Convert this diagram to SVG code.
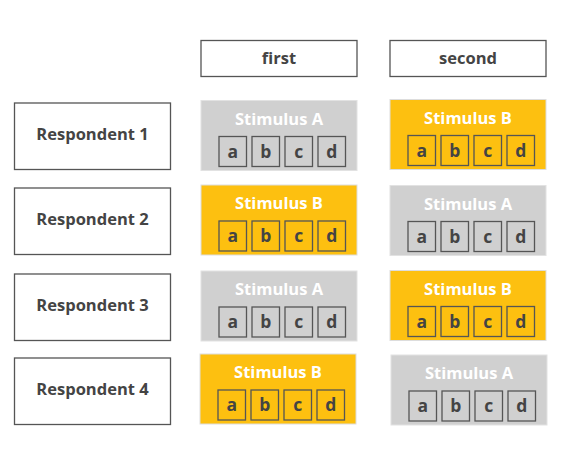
<svg xmlns="http://www.w3.org/2000/svg" width="565" height="449" viewBox="0 0 565 449">
<style>
.lbl{fill:#fff;stroke:#555;stroke-width:1.3}
.t{font-family:"Open Sans","Liberation Sans",sans-serif;font-weight:bold;font-size:16.5px;fill:#444;text-anchor:middle}
.st{font-family:"Open Sans","Liberation Sans",sans-serif;font-weight:bold;font-size:16.5px;fill:#fff;text-anchor:middle}
.lt{font-family:"Open Sans","Liberation Sans",sans-serif;font-weight:bold;font-size:17.5px;fill:#444;text-anchor:middle}
.ya{fill:#FDC010;stroke:#ddd;stroke-width:1}
.ga{fill:#D0D0D0;stroke:#e2e2e2;stroke-width:1}
.ib{fill:none;stroke:#555;stroke-width:1.3}
</style>
<defs>
<g id="letters">
<rect class="ib" x="18" y="36" width="27.5" height="30"/>
<rect class="ib" x="51" y="36" width="27.5" height="30"/>
<rect class="ib" x="84" y="36" width="27.5" height="30"/>
<rect class="ib" x="117" y="36" width="27.5" height="30"/>
<text class="lt" x="31.75" y="57">a</text>
<text class="lt" x="64.75" y="57">b</text>
<text class="lt" x="97.75" y="57">c</text>
<text class="lt" x="130.75" y="57">d</text>
</g>
<g id="stimA">
<rect class="ga" x="0" y="0" width="156" height="70"/>
<text class="st" x="78" y="24">Stimulus A</text>
<use href="#letters"/>
</g>
<g id="stimB">
<rect class="ya" x="0" y="0" width="156" height="70"/>
<text class="st" x="78" y="24">Stimulus B</text>
<use href="#letters"/>
</g>
</defs>
<g id="header-first"><rect class="lbl" x="201" y="40.5" width="156" height="36"/><text class="t" x="279" y="64">first</text></g>
<g id="header-second"><rect class="lbl" x="390" y="40.5" width="156" height="36"/><text class="t" x="468" y="64">second</text></g>
<g id="resp1"><rect class="lbl" x="14.5" y="103" width="156" height="66.5"/><text class="t" x="92.5" y="139.5">Respondent 1</text></g>
<g id="resp2"><rect class="lbl" x="14.5" y="188" width="156" height="66.5"/><text class="t" x="92.5" y="224.5">Respondent 2</text></g>
<g id="resp3"><rect class="lbl" x="14.5" y="274" width="156" height="66.5"/><text class="t" x="92.5" y="310.5">Respondent 3</text></g>
<g id="resp4"><rect class="lbl" x="14.5" y="358" width="156" height="66.5"/><text class="t" x="92.5" y="394.5">Respondent 4</text></g>
<g id="r1-first" transform="translate(201,100.5)"><use href="#stimA"/></g>
<g id="r1-second" transform="translate(390,99.5)"><use href="#stimB"/></g>
<g id="r2-first" transform="translate(201,185)"><use href="#stimB"/></g>
<g id="r2-second" transform="translate(390,185.5)"><use href="#stimA"/></g>
<g id="r3-first" transform="translate(201,271)"><use href="#stimA"/></g>
<g id="r3-second" transform="translate(390,270.5)"><use href="#stimB"/></g>
<g id="r4-first" transform="translate(200,354)"><use href="#stimB"/></g>
<g id="r4-second" transform="translate(391,355)"><use href="#stimA"/></g>
<g id="connectors"/>
</svg>
